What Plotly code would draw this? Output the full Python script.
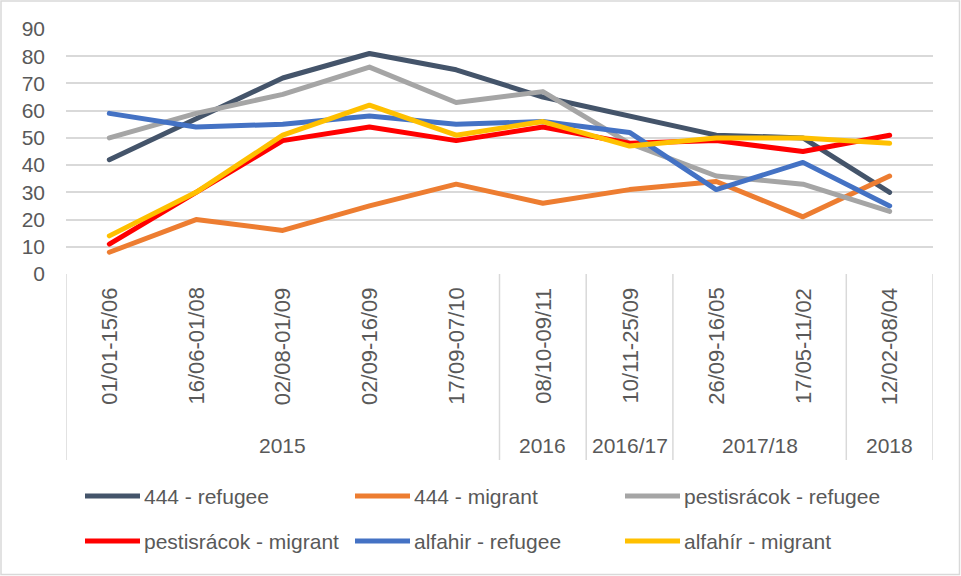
import plotly.graph_objects as go

categories = ["01/01-15/06", "16/06-01/08", "02/08-01/09", "02/09-16/09", "17/09-07/10",
              "08/10-09/11", "10/11-25/09", "26/09-16/05", "17/05-11/02", "12/02-08/04"]
year_groups = ["2015", "2016", "2016/17", "2017/18", "2018"]
year_group_sizes = [5, 1, 1, 2, 1]

series_names = ["444 - refugee", "444 - migrant", "pestisrácok - refugee",
                "pestisrácok - migrant", "alfahir - refugee", "alfahír - migrant"]
refugee_444 = [42, 57, 72, 81, 75, 65, 58, 51, 50, 30]
migrant_444 = [8, 20, 16, 25, 33, 26, 31, 34, 21, 36]
refugee_pesti = [50, 59, 66, 76, 63, 67, 48, 36, 33, 23]
migrant_pesti = [11, 30, 49, 54, 49, 54, 48, 49, 45, 51]
refugee_alfa = [59, 54, 55, 58, 55, 56, 52, 31, 41, 25]
migrant_alfa = [14, 30, 51, 62, 51, 56, 47, 50, 50, 48]
series_values = [refugee_444, migrant_444, refugee_pesti, migrant_pesti, refugee_alfa, migrant_alfa]
colors = ["#44546A", "#ED7D31", "#A5A5A5", "#FF0000", "#4472C4", "#FFC000"]
y_ticks = [0, 10, 20, 30, 40, 50, 60, 70, 80, 90]

W, H = 961, 576
L, R, T, B = 66, 933, 29, 274
PW, PH = R - L, B - T

def px_x(p):
    return (p - L) / PW

def px_y(p):
    return (B - p) / PH

FONT = "Liberation Sans, Arial, sans-serif"
TXT = "#595959"
GRID = "#D9D9D9"

fig = go.Figure()
xs = list(range(len(categories)))
for name, vals, col in zip(series_names, series_values, colors):
    fig.add_trace(go.Scatter(x=xs, y=vals, mode="lines", name=name,
                             line=dict(color=col, width=5), showlegend=False))

shapes = []
annotations = []

# category labels
for i, c in enumerate(categories):
    annotations.append(dict(x=i, xref="x", y=px_y(286), yref="paper", text=c,
                            textangle=-90, showarrow=False, xanchor="center", yanchor="top",
                            font=dict(family=FONT, size=22, color=TXT)))

# year groups and separators
start = 0
bounds = [-0.5]
for g, n in zip(year_groups, year_group_sizes):
    center = start + (n - 1) / 2
    annotations.append(dict(x=center, xref="x", y=px_y(445), yref="paper", text=g,
                            showarrow=False, xanchor="center", yanchor="middle",
                            font=dict(family=FONT, size=21, color=TXT)))
    start += n
    bounds.append(start - 0.5)
for b in bounds:
    shapes.append(dict(type="line", xref="x", yref="paper", x0=b, x1=b, y0=0, y1=px_y(460),
                       line=dict(color=GRID, width=1.5)))

# legend
legend_pos = [(85, 496), (355, 496), (625, 496), (85, 541), (355, 541), (625, 541)]
for (lx, ly), name, col in zip(legend_pos, series_names, colors):
    shapes.append(dict(type="line", xref="paper", yref="paper", x0=px_x(lx), x1=px_x(lx + 55),
                       y0=px_y(ly), y1=px_y(ly), line=dict(color=col, width=5)))
    annotations.append(dict(x=px_x(lx + 57), xref="paper", y=px_y(ly), yref="paper", text=name,
                            showarrow=False, xanchor="left", yanchor="middle",
                            font=dict(family=FONT, size=21, color=TXT)))

# outer border
shapes.append(dict(type="rect", xref="paper", yref="paper", x0=px_x(1), x1=px_x(959.5),
                   y0=px_y(574.5), y1=px_y(1), line=dict(color=GRID, width=1.5), layer="below"))

fig.update_layout(
    width=W, height=H,
    margin=dict(l=L, r=W - R, t=T, b=H - B, pad=0),
    paper_bgcolor="white", plot_bgcolor="white",
    xaxis=dict(range=[-0.5, len(categories) - 0.5], showticklabels=False, showgrid=False,
               zeroline=False, showline=False, ticks=""),
    yaxis=dict(range=[0, 90], tickvals=y_ticks, showgrid=True, gridcolor=GRID, gridwidth=1.5,
               zeroline=False, showline=False, ticks="", ticklabelstandoff=20,
               tickfont=dict(family=FONT, size=21, color=TXT)),
    shapes=shapes, annotations=annotations, showlegend=False,
)

fig.write_html("out.html", config={"displayModeBar": False},
               post_script="document.body.style.margin='0';document.body.style.overflow='hidden';"
                           "document.querySelectorAll('.js-line').forEach(function(p){p.style.strokeLinejoin='round';p.style.strokeLinecap='round';});")
